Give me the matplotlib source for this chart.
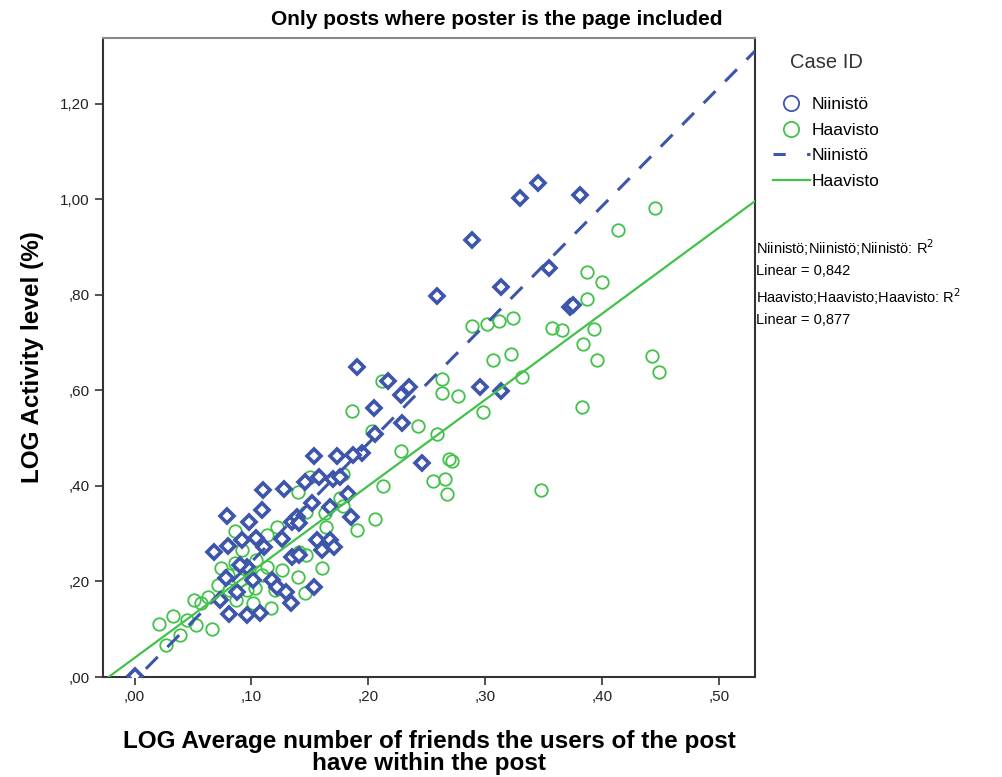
import matplotlib.pyplot as plt
import numpy as np
from matplotlib.lines import Line2D

plt.rcParams['font.family'] = ['Liberation Sans', 'DejaVu Sans']

# LOG friends within the post (x) vs LOG activity level (y)
niinisto_x = [0.345, 0.330, 0.381, 0.289, 0.314, 0.355, 0.373, 0.375, 0.259, 0.296,
              0.314, 0.190, 0.217, 0.228, 0.235, 0.205, 0.229, 0.206, 0.195, 0.187,
              0.173, 0.154, 0.246, 0.158, 0.170, 0.176, 0.146, 0.128, 0.110, 0.183,
              0.185, 0.079, 0.098, 0.109, 0.068, 0.080, 0.092, 0.104, 0.126, 0.135,
              0.139, 0.141, 0.152, 0.167, 0.156, 0.167, 0.160, 0.171, 0.135, 0.141,
              0.118, 0.122, 0.130, 0.154, 0.134, 0.081, 0.096, 0.107, 0.000, 0.088,
              0.073, 0.096, 0.101, 0.111, 0.078, 0.090]
niinisto_y = [1.033, 1.002, 1.008, 0.914, 0.816, 0.856, 0.774, 0.778, 0.797, 0.607,
              0.598, 0.649, 0.619, 0.590, 0.607, 0.563, 0.531, 0.508, 0.469, 0.464,
              0.462, 0.462, 0.448, 0.418, 0.414, 0.418, 0.408, 0.393, 0.391, 0.383,
              0.335, 0.337, 0.324, 0.349, 0.262, 0.274, 0.287, 0.291, 0.289, 0.324,
              0.335, 0.322, 0.364, 0.356, 0.287, 0.287, 0.266, 0.272, 0.251, 0.255,
              0.203, 0.188, 0.178, 0.188, 0.155, 0.132, 0.130, 0.134, 0.003, 0.178,
              0.161, 0.230, 0.203, 0.272, 0.207, 0.234]

haavisto_x = [0.445, 0.414, 0.387, 0.400, 0.387, 0.289, 0.302, 0.312, 0.324, 0.357,
              0.366, 0.393, 0.384, 0.307, 0.322, 0.396, 0.443, 0.449, 0.332, 0.277,
              0.298, 0.383, 0.348, 0.263, 0.263, 0.212, 0.186, 0.243, 0.203, 0.259,
              0.228, 0.269, 0.272, 0.255, 0.266, 0.267, 0.213, 0.178, 0.176, 0.178,
              0.206, 0.190, 0.150, 0.140, 0.147, 0.163, 0.086, 0.092, 0.113, 0.122,
              0.141, 0.147, 0.160, 0.126, 0.140, 0.146, 0.117, 0.021, 0.033, 0.027,
              0.066, 0.053, 0.045, 0.039, 0.057, 0.063, 0.071, 0.074, 0.086, 0.090,
              0.098, 0.104, 0.113, 0.081, 0.096, 0.101, 0.087, 0.051, 0.109, 0.080,
              0.103, 0.120, 0.164]
haavisto_y = [0.981, 0.935, 0.847, 0.826, 0.791, 0.734, 0.738, 0.745, 0.751, 0.730,
              0.726, 0.728, 0.697, 0.663, 0.676, 0.663, 0.672, 0.638, 0.628, 0.588,
              0.554, 0.565, 0.391, 0.623, 0.594, 0.619, 0.556, 0.525, 0.515, 0.508,
              0.473, 0.456, 0.452, 0.410, 0.414, 0.383, 0.400, 0.425, 0.374, 0.358,
              0.331, 0.308, 0.418, 0.387, 0.345, 0.343, 0.305, 0.266, 0.297, 0.314,
              0.262, 0.255, 0.228, 0.224, 0.209, 0.176, 0.144, 0.111, 0.128, 0.067,
              0.100, 0.109, 0.119, 0.088, 0.155, 0.167, 0.192, 0.228, 0.238, 0.203,
              0.224, 0.245, 0.230, 0.182, 0.182, 0.155, 0.161, 0.161, 0.213, 0.213,
              0.186, 0.182, 0.314]

# linear fit lines (slope, intercept) and R squared
niinisto_fit = [2.48, -0.007]
haavisto_fit = [1.80, 0.040]
r2_values = ["0,842", "0,877"]

blue = '#3d55ab'
green = '#42c24a'

fig = plt.figure(figsize=(10.02, 7.77), dpi=100)
ax = fig.add_axes([0.1028, 0.1287, 0.6507, 0.8223])

ax.plot(haavisto_x, haavisto_y, 'o', ms=9, mfc='none', mec=green, mew=1.3, zorder=3)
ax.plot(niinisto_x, niinisto_y, 'D', ms=7, mfc='white', mec=blue, mew=2.6, zorder=4)

xmin, xmax = -0.027, 0.531
xs = np.array([xmin, xmax])
yb = niinisto_fit[0] * xs + niinisto_fit[1]
yg = haavisto_fit[0] * xs + haavisto_fit[1]
ax.plot(xs, yb, color=blue, lw=2.2, dashes=(5.5, 4.5), zorder=5)
ax.plot(xs, yg, color=green, lw=1.6, zorder=5)

ax.set_xlim(xmin, xmax)
ax.set_ylim(0, 1.337)

xticks = [0.0, 0.1, 0.2, 0.3, 0.4, 0.5]
yticks = [0.0, 0.2, 0.4, 0.6, 0.8, 1.0, 1.2]
ax.set_xticks(xticks)
ax.set_xticklabels([',00', ',10', ',20', ',30', ',40', ',50'])
ax.set_yticks(yticks)
ax.set_yticklabels([',00', ',20', ',40', ',60', ',80', '1,00', '1,20'])
ax.tick_params(direction='out', length=6, width=1.2, labelsize=11, colors='#333333',
               labelcolor='#222222')
for side in ['left', 'bottom', 'right']:
    ax.spines[side].set_color('#333333')
    ax.spines[side].set_linewidth(1.5)
ax.spines['top'].set_color('#888888')
ax.spines['top'].set_linewidth(1.5)

ax.set_ylabel('LOG Activity level (%)', fontsize=17.5, fontweight='bold', labelpad=12)
ax.set_xlabel('LOG Average number of friends the users of the post\nhave within the post',
              fontsize=17.5, fontweight='bold', linespacing=0.95, labelpad=18.5)

fig.text(0.496, 0.975, 'Only posts where poster is the page included',
         fontweight='bold', fontsize=15, ha='center', va='center')

handles = [
    Line2D([], [], marker='o', ls='none', ms=11, mfc='none', mec=blue, mew=1.3),
    Line2D([], [], marker='o', ls='none', ms=11, mfc='none', mec=green, mew=1.3),
    Line2D([], [], color=blue, lw=2.2, dashes=(4, 7)),
    Line2D([], [], color=green, lw=1.6),
]
leg = fig.legend(handles, ['Niinistö', 'Haavisto', 'Niinistö', 'Haavisto'],
                 title='Case ID', loc='upper left', bbox_to_anchor=(0.756, 0.952),
                 frameon=False, fontsize=12.5, title_fontsize=14.5,
                 handlelength=2.1, handletextpad=0.1, labelspacing=0.6)
leg.get_title().set_color('#333333')
leg._legend_box.sep = 18

fig.text(0.754, 0.694,
         'Niinistö;Niinistö;Niinistö: R$^2$\nLinear = ' + r2_values[0] +
         '\nHaavisto;Haavisto;Haavisto: R$^2$\nLinear = ' + r2_values[1],
         fontsize=10.5, va='top', ha='left', linespacing=1.5)

fig.savefig('out.png', dpi=100)
